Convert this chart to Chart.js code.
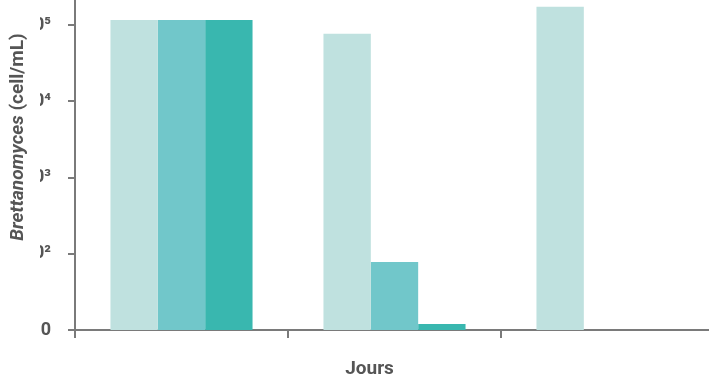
<!DOCTYPE html>
<html>
<head>
<meta charset="utf-8">
<script src="https://cdn.jsdelivr.net/npm/chart.js@4/dist/chart.umd.min.js"></script>
<style>
  html, body { margin: 0; padding: 0; background: #fff; overflow: hidden; }
  #wrap { width: 709px; height: 378px; position: relative; overflow: hidden; }
  #c { display: block; }
</style>
</head>
<body>
<div id="wrap"><canvas id="c" width="714" height="378"></canvas></div>
<script>
// ---- data ----
const categories = ["Jour 0", "Jour 1", "Jour 2"];
const seriesNames = ["Série 1", "Série 2", "Série 3"];
const series1 = [116000, 77000, 174000];
const series2 = [116000, 78, null];
const series3 = [116000, 12, null];
const tickValues = [10, 100, 1000, 10000, 100000];
const tickLabels = ["10", "10²", "10³", "10⁴", "10⁵"];
const yTitleItalic = "Brettanomyces";
const yTitleRest = " (cell/mL)";
const xTitle = "Jours";

const colors = ["#bfe1df", "#71c7ca", "#39b7af"];
const axisColor = "#7a7a7a";
const textColor = "#555555";
const FONT = "Roboto, 'Liberation Sans', sans-serif";

const clipAndTitles = {
  id: "clipAndTitles",
  beforeDraw(chart) {
    const ctx = chart.ctx;
    ctx.save();
    ctx.beginPath();
    ctx.rect(40, 0, chart.width - 40, chart.height);
    ctx.clip();
  },
  afterDraw(chart) {
    const ctx = chart.ctx;
    ctx.restore();
    // y title (mixed italic)
    ctx.save();
    ctx.fillStyle = textColor;
    ctx.textBaseline = "middle";
    ctx.textAlign = "left";
    const fItal = "italic bold 19px " + FONT;
    const fBold = "bold 19px " + FONT;
    ctx.font = fItal;
    const w1 = ctx.measureText(yTitleItalic).width;
    ctx.font = fBold;
    const w2 = ctx.measureText(yTitleRest).width;
    ctx.translate(18, 137);
    ctx.rotate(-Math.PI / 2);
    const start = -(w1 + w2) / 2;
    ctx.font = fItal;
    ctx.fillText(yTitleItalic, start, 0);
    ctx.font = fBold;
    ctx.fillText(yTitleRest, start + w1, 0);
    ctx.restore();
    // x title
    ctx.save();
    ctx.fillStyle = textColor;
    ctx.font = "bold 19px " + FONT;
    ctx.textAlign = "center";
    ctx.textBaseline = "alphabetic";
    ctx.fillText(xTitle, 369.5, 374);
    ctx.restore();
  }
};

new Chart(document.getElementById("c"), {
  type: "bar",
  data: {
    labels: categories,
    datasets: [
      { label: seriesNames[0], data: series1, backgroundColor: colors[0] },
      { label: seriesNames[1], data: series2, backgroundColor: colors[1] },
      { label: seriesNames[2], data: series3, backgroundColor: colors[2] }
    ]
  },
  options: {
    responsive: false,
    animation: false,
    devicePixelRatio: 1,
    layout: { autoPadding: false, padding: 0 },
    datasets: { bar: { categoryPercentage: 0.667, barPercentage: 1.0, borderWidth: 0 } },
    plugins: { legend: { display: false }, tooltip: { enabled: false }, title: { display: false } },
    scales: {
      x: {
        type: "category",
        offset: true,
        grid: { display: true, drawOnChartArea: false, drawTicks: true, tickLength: 8, color: axisColor, lineWidth: 2, offset: true },
        border: { display: true, color: axisColor, width: 2 },
        ticks: { display: false },
        afterFit(scale) { scale.height = 48; scale.paddingLeft = 0; scale.paddingRight = 0; }
      },
      y: {
        type: "logarithmic",
        min: 10,
        max: 213000,
        grid: { display: true, drawOnChartArea: false, drawTicks: true, tickLength: 7, color: axisColor, lineWidth: 2 },
        border: { display: true, color: axisColor, width: 2 },
        afterBuildTicks(scale) { scale.ticks = tickValues.map(v => ({ value: v })); },
        ticks: {
          padding: 17,
          color: textColor,
          font: { family: FONT, size: 18, weight: "bold" },
          callback(value) { const i = tickValues.indexOf(value); return i >= 0 ? tickLabels[i] : ""; }
        },
        afterFit(scale) { scale.width = 75; scale.paddingTop = 0; scale.paddingBottom = 0; }
      }
    }
  },
  plugins: [clipAndTitles]
});
</script>
</body>
</html>
